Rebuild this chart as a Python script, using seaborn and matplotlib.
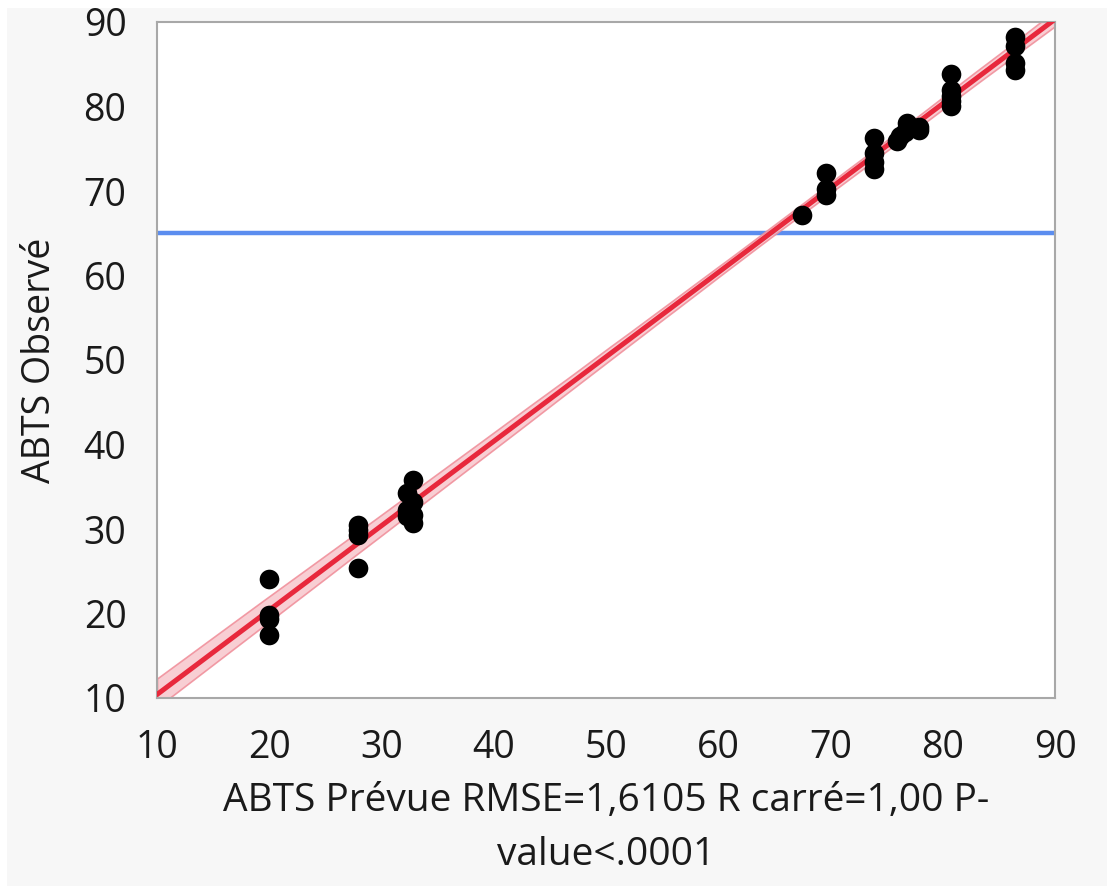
import matplotlib
matplotlib.use("Agg")
import matplotlib.pyplot as plt
import seaborn as sns
import numpy as np
import pandas as pd
from matplotlib.patches import Rectangle

# Data
predicted = [20.0, 20.0, 20.0, 20.0,
             27.9, 27.9, 27.9, 27.9,
             32.3, 32.3, 32.3,
             32.8, 32.8, 32.8, 32.8,
             67.5,
             69.6, 69.6, 69.6,
             73.9, 73.9, 73.9, 73.9,
             75.9, 76.2, 76.6, 76.8, 77.9, 77.9,
             80.7, 80.7, 80.7, 80.7, 80.7,
             86.4, 86.4, 86.4, 86.4]
observed = [24.1, 19.8, 19.3, 17.5,
            30.5, 29.9, 29.3, 25.4,
            34.3, 32.3, 31.5,
            35.8, 33.2, 31.6, 30.7,
            67.2,
            72.1, 70.2, 69.5,
            76.3, 74.5, 73.4, 72.6,
            75.9, 76.5, 77.0, 78.0, 77.6, 77.2,
            83.8, 82.0, 81.2, 80.6, 80.0,
            88.2, 87.2, 85.2, 84.3]
mean_observed = [65.0]
ticks = [10, 20, 30, 40, 50, 60, 70, 80, 90]
x_label = "ABTS Prévue RMSE=1,6105 R carré=1,00 P-\nvalue<.0001"
y_label = "ABTS Observé"

df = pd.DataFrame({"pred": predicted, "obs": observed})

sns.set_theme(style="white")
plt.rcParams['font.family'] = ['Open Sans', 'DejaVu Sans']

fig = plt.figure(figsize=(11.07, 8.86), dpi=100)
fig.patch.set_facecolor("white")
fig.patches.append(Rectangle((7 / 1107, 0), 1, 1 - 8 / 886, transform=fig.transFigure,
                             facecolor="#f7f7f7", edgecolor="none", zorder=-10))
ax = fig.add_axes([157 / 1107, 1 - 698 / 886, (1055 - 157) / 1107, (698 - 22) / 886])
ax.set_zorder(1)
ax.set_facecolor("white")
ax.set_xlim(10, 90)
ax.set_ylim(10, 90)

ax.axhline(mean_observed[0], color="#5b8def", lw=3.2, zorder=2)

sns.regplot(data=df, x="pred", y="obs", ax=ax, scatter=False, truncate=False,
            ci=99, n_boot=1000, seed=1,
            line_kws={"color": "#e8283c", "lw": 3.6, "zorder": 3})
for coll in ax.collections:
    coll.set_facecolor("#f7c6cc")
    coll.set_alpha(0.85)
    coll.set_edgecolor("#f08c98")
    coll.set_linewidth(1.2)
    coll.set_zorder(2.5)

sns.scatterplot(data=df, x="pred", y="obs", ax=ax, color="black", s=200,
                edgecolor="black", linewidth=0, zorder=4)

ax.set_xlim(10, 90)
ax.set_ylim(10, 90)
ax.set_xticks(ticks)
ax.set_yticks(ticks)
ax.tick_params(axis="both", direction="out", length=14, width=1.5, color="#a8a8a8",
               labelsize=27, labelcolor="#1a1a1a", pad=8)
for sp in ax.spines.values():
    sp.set_color("#a8a8a8")
    sp.set_linewidth(1.5)

ax.set_xlabel(x_label, fontsize=28, color="#1a1a1a", linespacing=1.55, labelpad=11)
ax.set_ylabel(y_label, fontsize=27, color="#1a1a1a", labelpad=18)

fig.savefig("out.png", dpi=100, facecolor=fig.get_facecolor())
